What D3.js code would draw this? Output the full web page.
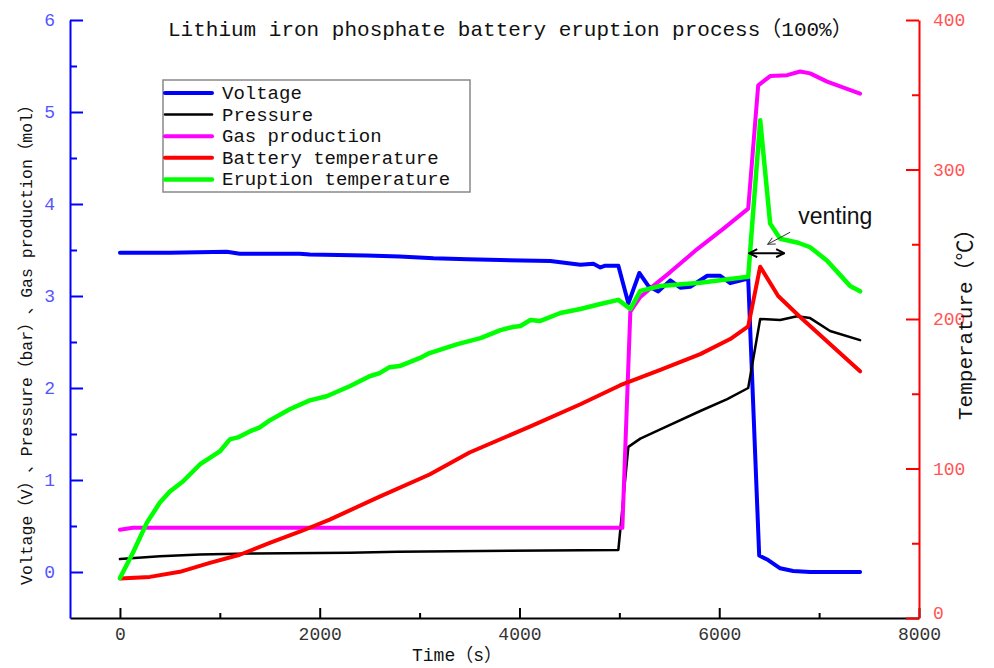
<!DOCTYPE html>
<html>
<head>
<meta charset="utf-8">
<script src="https://cdn.jsdelivr.net/npm/d3@7"></script>
<style>
  html, body { margin: 0; padding: 0; background: #fff; }
  svg text { font-family: "Liberation Mono", "Noto Sans CJK SC", monospace; text-spacing-trim: space-all; }
</style>
</head>
<body>
<script>
// data, [time (s), value]

// left axis
const voltage = [
  [0, 3.47], [500, 3.47], [1070, 3.48], [1200, 3.46], [1800, 3.46], [1900, 3.45],
  [2470, 3.44], [2800, 3.43], [3140, 3.41], [3480, 3.40], [3810, 3.39], [4310, 3.38],
  [4610, 3.34], [4740, 3.35], [4810, 3.31], [4860, 3.33], [4990, 3.33], [5090, 2.92],
  [5200, 3.25], [5290, 3.11], [5390, 3.05], [5510, 3.17], [5610, 3.09], [5710, 3.10],
  [5880, 3.22], [6010, 3.22], [6110, 3.14], [6290, 3.19], [6400, 0.18], [6490, 0.13],
  [6610, 0.04], [6740, 0.01], [6910, 0], [7410, 0]
]
const pressure = [
  [0, 0.14], [400, 0.17], [800, 0.19], [1300, 0.20], [2300, 0.21], [2780, 0.22],
  [3900, 0.23], [4990, 0.24], [5090, 1.36], [5210, 1.45], [5410, 1.55], [5810, 1.75],
  [6080, 1.88], [6290, 2.0], [6410, 2.75], [6610, 2.74], [6780, 2.78], [6910, 2.76],
  [7110, 2.62], [7410, 2.52]
]
const gas = [
  [0, 0.46], [130, 0.48], [5030, 0.48], [5110, 2.83], [5210, 2.99], [5340, 3.11],
  [5510, 3.26], [5780, 3.51], [6040, 3.73], [6290, 3.95], [6390, 5.29], [6510, 5.39],
  [6680, 5.40], [6810, 5.44], [6910, 5.42], [7080, 5.33], [7410, 5.20]
]

// right axis (°C)
const batteryTemp = [
  [0, 26.5], [300, 27.5], [600, 30.9], [900, 36.9], [1200, 42.3], [1500, 50.3],
  [1800, 57.7], [2100, 65.8], [2600, 81.2], [3100, 96], [3500, 110.7], [4110, 128.2],
  [4610, 143], [5010, 155.7], [5410, 166], [5810, 176.5], [6110, 186.6], [6290, 195],
  [6410, 235], [6590, 215.4], [6810, 201.3], [7410, 165]
]
const eruptionTemp = [
  [0, 26.8], [130, 43.6], [270, 63.8], [400, 77.2], [500, 84.6], [630, 91.3],
  [800, 102.7], [1000, 111.4], [1100, 119.5], [1180, 120.8], [1300, 124.8], [1400, 127.5],
  [1500, 132.2], [1700, 139.6], [1900, 145.6], [2070, 148.3], [2300, 155], [2500, 161.7],
  [2600, 163.8], [2700, 167.8], [2800, 168.5], [3000, 173.8], [3100, 177.2], [3380, 183.2],
  [3610, 187.2], [3810, 192.6], [3930, 194.6], [4010, 195.3], [4110, 199.3], [4210, 198.7],
  [4410, 204], [4610, 206.7], [4810, 210], [4990, 212.8], [5110, 206.7], [5210, 218.8],
  [5410, 222.1], [5810, 224.2], [6290, 228.2], [6410, 332.9], [6510, 263.8], [6610, 253.7],
  [6790, 251], [6910, 248], [7080, 239], [7230, 228], [7310, 222], [7410, 218.5]
]

const xTicks = [0, 2000, 4000, 6000, 8000]
const xMinor = [1000, 3000, 5000, 7000]
const leftTicks = [0, 1, 2, 3, 4, 5, 6]
const leftMinor = [0.5, 1.5, 2.5, 3.5, 4.5, 5.5]
const rightTicks = [0, 100, 200, 300, 400]
const rightMinor = [50, 150, 250, 350]

// venting arrow: time span and temperature level
const venting = { t0: 6300, t1: 6650, temp: 244 }

const series = [
  { name: "Voltage", data: voltage, axis: "left", color: "#0000ff", w: 4 },
  { name: "Pressure", data: pressure, axis: "left", color: "#000000", w: 2.5 },
  { name: "Gas production", data: gas, axis: "left", color: "#ff00ff", w: 4 },
  { name: "Battery temperature", data: batteryTemp, axis: "right", color: "#ff0000", w: 4 },
  { name: "Eruption temperature", data: eruptionTemp, axis: "right", color: "#00ff00", w: 4.5 }
]

// layout

const width = 994, height = 668
const margin = { left: 70, right: 919, top: 20, bottom: 618 }

const x = d3.scaleLinear().domain([-500, 8000]).range([margin.left, margin.right])
const yL = d3.scaleLinear().domain([-0.5, 6]).range([margin.bottom, margin.top])
const yR = d3.scaleLinear().domain([0, 400]).range([margin.bottom, margin.top])

const svg = d3.select("body").append("svg")
  .attr("width", width)
  .attr("height", height)

// full-width chars get the CJK font so they keep their wide spacing
const wide = /[（）、℃]/
const mixedText = (sel, str) => {
  str.split(/([（）、℃]+)/).filter(s => s.length).forEach(part => {
    const t = sel.append("tspan").text(part)
    if (wide.test(part)) {
      t.style("font-family", "'Noto Sans CJK SC', 'Noto Sans CJK JP', sans-serif")
        .style("text-spacing-trim", "space-all")
        .style("font-feature-settings", "'halt' 0, 'chws' 0")
    }
  })
  return sel
}

// lines
series.forEach(s => {
  const y = s.axis === "left" ? yL : yR
  const line = d3.line().x(d => x(d[0])).y(d => y(d[1]))
  svg.append("path")
    .datum(s.data)
    .attr("fill", "none")
    .attr("stroke", s.color)
    .attr("stroke-width", s.w)
    .attr("stroke-linejoin", "round")
    .attr("stroke-linecap", "round")
    .attr("d", line)
})

// axes

const styleAxis = (g, color, labelColor) => {
  g.selectAll("path, line").attr("stroke", color).attr("stroke-width", 2)
  g.selectAll("text")
    .attr("fill", labelColor)
    .style("font-size", "18px")
    .style("font-family", "'Liberation Mono', monospace")
}

const minorTicks = (g, color) => {
  g.select(".domain").remove()
  g.selectAll("line").attr("stroke", color).attr("stroke-width", 2)
}

const fmt = d3.format("d")

// bottom
svg.append("g").attr("transform", `translate(0,${margin.bottom})`)
  .call(d3.axisBottom(x).tickValues(xTicks).tickFormat(fmt).tickSizeInner(-10).tickSizeOuter(0).tickPadding(9))
  .call(g => styleAxis(g, "#000", "#333"))
svg.append("g").attr("transform", `translate(0,${margin.bottom})`)
  .call(d3.axisBottom(x).tickValues(xMinor).tickSizeInner(-5).tickSizeOuter(0).tickFormat(""))
  .call(g => minorTicks(g, "#000"))

// left
svg.append("g").attr("transform", `translate(${margin.left},0)`)
  .call(d3.axisLeft(yL).tickValues(leftTicks).tickFormat(fmt).tickSizeInner(-13).tickSizeOuter(0).tickPadding(15))
  .call(g => styleAxis(g, "#0000ff", "#5555ff"))
svg.append("g").attr("transform", `translate(${margin.left},0)`)
  .call(d3.axisLeft(yL).tickValues(leftMinor).tickSizeInner(-7).tickSizeOuter(0).tickFormat(""))
  .call(g => minorTicks(g, "#0000ff"))

// right
svg.append("g").attr("transform", `translate(${margin.right},0)`)
  .call(d3.axisRight(yR).tickValues(rightTicks).tickFormat(fmt).tickSizeInner(-13).tickSizeOuter(0).tickPadding(14))
  .call(g => styleAxis(g, "#ff0000", "#ff5555"))
  .call(g => g.selectAll(".tick text").filter(d => d === 0).attr("dy", "0.05em"))
svg.append("g").attr("transform", `translate(${margin.right},0)`)
  .call(d3.axisRight(yR).tickValues(rightMinor).tickSizeInner(-7).tickSizeOuter(0).tickFormat(""))
  .call(g => minorTicks(g, "#ff0000"))

// titles

svg.append("text")
  .attr("x", 168).attr("y", 36)
  .style("font-size", "21px")
  .attr("fill", "#111")
  .call(mixedText, "Lithium iron phosphate battery eruption process（100%）")

svg.append("text")
  .attr("x", 412).attr("y", 661)
  .style("font-size", "18px")
  .attr("fill", "#111")
  .call(mixedText, "Time（s）")

svg.append("text")
  .attr("transform", "translate(32,585) rotate(-90)")
  .style("font-size", "16.5px")
  .attr("fill", "#111")
  .call(mixedText, "Voltage（V）、Pressure（bar）、Gas production（mol）")

svg.append("text")
  .attr("transform", "translate(972,420) rotate(-90)")
  .style("font-size", "21px")
  .attr("fill", "#111")
  .call(mixedText, "Temperature（℃）")

// legend

const legend = svg.append("g").attr("transform", "translate(163,80)")
legend.append("rect")
  .attr("width", 307).attr("height", 112)
  .attr("fill", "#fff")
  .attr("stroke", "#888")
  .attr("stroke-width", 1.5)
series.forEach((s, i) => {
  const yy = 13 + i * 21.6
  legend.append("line")
    .attr("x1", 2).attr("x2", 49)
    .attr("y1", yy).attr("y2", yy)
    .attr("stroke", s.color)
    .attr("stroke-width", s.w)
    .attr("stroke-linecap", "round")
  legend.append("text")
    .attr("x", 59).attr("y", yy + 6)
    .style("font-size", "19px")
    .attr("fill", "#111")
    .text(s.name)
})

// venting annotation

const defs = svg.append("defs")
defs.append("marker")
  .attr("id", "chev")
  .attr("viewBox", "0 0 10 10")
  .attr("refX", 9).attr("refY", 5)
  .attr("markerWidth", 10).attr("markerHeight", 10)
  .attr("markerUnits", "userSpaceOnUse")
  .attr("orient", "auto-start-reverse")
  .append("path")
  .attr("d", "M1,1 L9,5 L1,9")
  .attr("fill", "none")
  .attr("stroke", "#000")
  .attr("stroke-width", 2)
defs.append("marker")
  .attr("id", "thin")
  .attr("viewBox", "0 0 10 10")
  .attr("refX", 9).attr("refY", 5)
  .attr("markerWidth", 9).attr("markerHeight", 9)
  .attr("markerUnits", "userSpaceOnUse")
  .attr("orient", "auto")
  .append("path")
  .attr("d", "M1,1 L9,5 L1,9")
  .attr("fill", "none")
  .attr("stroke", "#333")
  .attr("stroke-width", 1)

svg.append("line")
  .attr("x1", x(venting.t0)).attr("x2", x(venting.t1))
  .attr("y1", yR(venting.temp)).attr("y2", yR(venting.temp))
  .attr("stroke", "#000")
  .attr("stroke-width", 2)
  .attr("marker-start", "url(#chev)")
  .attr("marker-end", "url(#chev)")

svg.append("line")
  .attr("x1", x(venting.t1) + 6).attr("y1", yR(venting.temp) - 21)
  .attr("x2", x((venting.t0 + venting.t1) / 2) + 1).attr("y2", yR(venting.temp) - 9)
  .attr("stroke", "#333")
  .attr("stroke-width", 1)
  .attr("marker-end", "url(#thin)")

svg.append("text")
  .attr("x", x(venting.t1) + 14).attr("y", yR(venting.temp) - 29)
  .style("font-family", "'Liberation Sans', Arial, sans-serif")
  .style("font-size", "23px")
  .attr("fill", "#111")
  .text("venting")
</script>
</body>
</html>
